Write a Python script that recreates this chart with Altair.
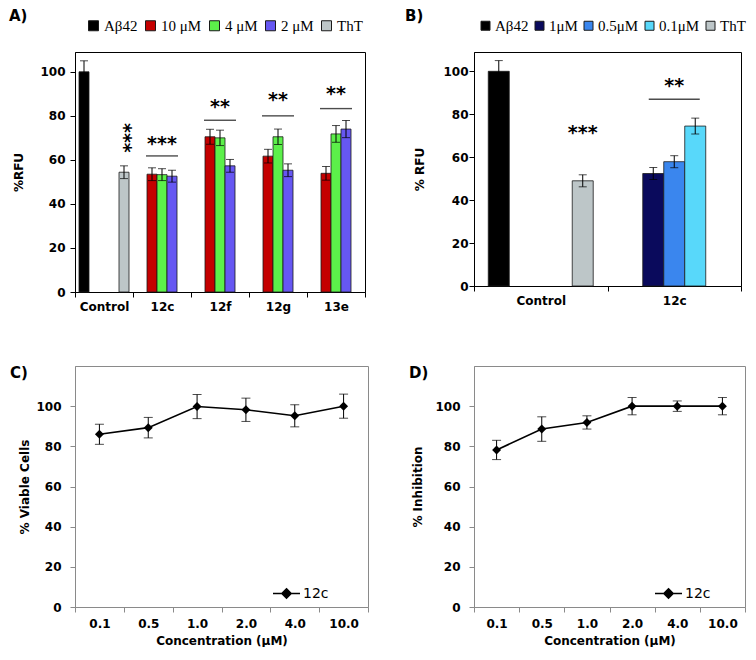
import altair as alt
import pandas as pd

SANS = "DejaVu Sans"
SERIF = "Liberation Serif"

# ---------------- Panel A data ----------------
a_groups = ["Control", "12c", "12f", "12g", "13e"]
a_series = ["Aβ42", "10 μM", "4 μM", "2 μM", "ThT"]
a_colors = ["#000000", "#C40000", "#5CF04A", "#6657F2", "#BDC6C8"]
a_bar_group = ["Control", "Control", "12c", "12c", "12c", "12f", "12f", "12f",
               "12g", "12g", "12g", "13e", "13e", "13e"]
a_bar_series = ["Aβ42", "ThT", "10 μM", "4 μM", "2 μM", "10 μM", "4 μM", "2 μM",
                "10 μM", "4 μM", "2 μM", "10 μM", "4 μM", "2 μM"]
a_bar_value = [100, 54.4, 53.5, 53.3, 52.6, 70.5, 70.0, 57.3, 61.7, 70.5, 55.3, 53.9, 71.8, 74.0]
a_bar_err = [5.0, 2.9, 2.9, 2.7, 2.7, 3.4, 3.5, 2.9, 3.1, 3.5, 2.9, 3.1, 3.8, 3.9]
a_sig_group = ["12c", "12f", "12g", "13e"]
a_sig_text = ["***", "**", "**", "**"]
a_sig_line = [61.8, 78.0, 80.0, 83.3]
a_sig_label = [67.4, 84.0, 87.0, 89.7]
a_ctrl_sig = ["***"]
a_ctrl_sig_y = [70.0]

# ---------------- Panel B data ----------------
b_groups = ["Control", "12c"]
b_series = ["Aβ42", "1μM", "0.5μM", "0.1μM", "ThT"]
b_colors = ["#000000", "#0A0A5C", "#3A86EE", "#58D8FA", "#BDC6C8"]
b_bar_group = ["Control", "Control", "12c", "12c", "12c"]
b_bar_series = ["Aβ42", "ThT", "1μM", "0.5μM", "0.1μM"]
b_bar_value = [100, 49.0, 52.4, 57.9, 74.5]
b_bar_err = [5.0, 2.8, 2.8, 2.8, 3.7]
b_sig_group = ["12c"]
b_sig_text = ["**"]
b_sig_line = [87.0]
b_sig_label = [93.0]
b_ctrl_sig = ["***"]
b_ctrl_sig_y = [71.2]

# ---------------- Panels C / D data ----------------
conc = ["0.1", "0.5", "1.0", "2.0", "4.0", "10.0"]
c_viable = [86.0, 89.3, 99.8, 98.2, 95.2, 100.0]
c_err = [5.0, 5.1, 6.0, 5.8, 5.5, 6.0]
d_inhib = [78.2, 88.6, 91.9, 100.0, 100.0, 100.0]
d_err = [4.8, 6.1, 3.3, 4.3, 2.6, 4.3]
cd_series = ["12c"]


def panel_title(text, dx, offset):
    return alt.TitleParams(text=text, anchor="start", frame="group", dx=dx,
                           offset=offset, font=SANS, fontSize=15, fontWeight="bold",
                           color="black")


def bar_panel(label, groups, series, colors, bgroup, bseries, bvalue, berr,
              sgroup, stext, sline, slabel, ctext, cy, cangle,
              width, height, ytitle, ypad_label, ypad_title, po,
              leg_x, leg_y, leg_sym, leg_off, leg_pad, line_size, title_dx, title_off):
    df = pd.DataFrame({"group": bgroup, "series": bseries, "value": bvalue, "err": berr})
    df["lo"] = df["value"] - df["err"]
    df["hi"] = df["value"] + df["err"]
    sig = pd.DataFrame({"group": sgroup, "txt": stext, "line": sline, "lab": slabel})
    ctrl = pd.DataFrame({"group": [groups[0]], "series": [series[-1]], "txt": ctext, "y": cy})

    x = alt.X("group:N", sort=groups,
              scale=alt.Scale(domain=groups, paddingInner=0, paddingOuter=0),
              axis=alt.Axis(title=None, tickBand="extent", labelAngle=0, domainColor="black",
                            tickColor="black", tickSize=5, labelFont=SANS, labelFontWeight="bold",
                            labelFontSize=12, labelColor="black", labelPadding=4))
    xo = alt.XOffset("series:N", sort=series,
                     scale=alt.Scale(domain=series, paddingInner=0, paddingOuter=po))
    yscale = alt.Scale(domain=[0, 109], nice=False)
    yaxis = alt.Axis(values=[0, 20, 40, 60, 80, 100], title=ytitle, grid=False,
                     domainColor="black", tickColor="black", tickSize=5,
                     labelFont=SANS, labelFontWeight="bold", labelFontSize=12,
                     labelColor="black", labelPadding=ypad_label,
                     titleFont=SANS, titleFontWeight="bold", titleFontSize=12,
                     titleColor="black", titlePadding=ypad_title)

    def Y(field):
        return alt.Y(field, scale=yscale, axis=yaxis)

    bars = alt.Chart(df).mark_bar(stroke="#1a1a1a", strokeWidth=0.8).encode(
        x=x, xOffset=xo, y=Y("value:Q"),
        color=alt.Color("series:N", sort=series,
                        scale=alt.Scale(domain=series, range=colors),
                        legend=alt.Legend(orient="none", legendX=leg_x, legendY=leg_y,
                                          direction="horizontal", columns=5, title=None,
                                          symbolType="square", symbolSize=leg_sym,
                                          symbolStrokeColor="#1a1a1a", symbolStrokeWidth=1,
                                          symbolOpacity=1, labelFont=SERIF, labelFontSize=15,
                                          labelColor="black", labelOffset=leg_off,
                                          columnPadding=leg_pad, padding=0)))
    rules = alt.Chart(df).mark_rule(color="black", strokeWidth=1).encode(
        x=x, xOffset=xo, y=Y("lo:Q"), y2="hi:Q")
    cap_hi = alt.Chart(df).mark_tick(color="black", thickness=1, size=8).encode(
        x=x, xOffset=xo, y=Y("hi:Q"))
    cap_lo = alt.Chart(df).mark_tick(color="black", thickness=1, size=8).encode(
        x=x, xOffset=xo, y=Y("lo:Q"))
    sig_lines = alt.Chart(sig).mark_tick(color="black", thickness=1.4, size=line_size).encode(
        x=x, y=Y("line:Q"))
    sig_text = alt.Chart(sig).mark_text(font=SANS, fontWeight="bold", fontSize=19,
                                        baseline="middle", color="black").encode(
        x=x, y=Y("lab:Q"), text="txt:N")
    ctrl_text = alt.Chart(ctrl).mark_text(font=SANS, fontWeight="bold", fontSize=19,
                                          baseline="middle", angle=cangle, color="black").encode(
        x=x, xOffset=xo, y=Y("y:Q"), text="txt:N")
    return alt.layer(bars, rules, cap_hi, cap_lo, sig_lines, sig_text, ctrl_text).properties(
        width=width, height=height,
        title=panel_title(label, title_dx, title_off),
        view=alt.ViewBackground(stroke="black", strokeWidth=1))


def line_panel(label, values, errs, width, height, ytitle, ypad_label, ypad_title,
               leg_x, leg_y, title_dx, title_off):
    df = pd.DataFrame({"conc": conc, "val": values, "err": errs, "series": cd_series * len(conc)})
    df["lo"] = df["val"] - df["err"]
    df["hi"] = df["val"] + df["err"]
    grey = "#8A8A8A"
    x = alt.X("conc:N", sort=conc,
              scale=alt.Scale(type="band", domain=conc, paddingInner=0, paddingOuter=0),
              axis=alt.Axis(title="Concentration (μM)", tickBand="extent", labelAngle=0,
                            domainColor=grey, tickColor=grey, tickSize=5,
                            labelFont=SANS, labelFontWeight="bold", labelFontSize=12,
                            labelColor="black", labelPadding=6,
                            titleFont=SANS, titleFontWeight="bold", titleFontSize=12,
                            titleColor="black", titlePadding=6))
    yscale = alt.Scale(domain=[0, 120], nice=False)
    yaxis = alt.Axis(values=[0, 20, 40, 60, 80, 100], title=ytitle, grid=False,
                     domainColor=grey, tickColor=grey, tickSize=5,
                     labelFont=SANS, labelFontWeight="bold", labelFontSize=12,
                     labelColor="black", labelPadding=ypad_label,
                     titleFont=SANS, titleFontWeight="bold", titleFontSize=12,
                     titleColor="black", titlePadding=ypad_title)

    def Y(field):
        return alt.Y(field, scale=yscale, axis=yaxis)

    line = alt.Chart(df).mark_line(color="black", strokeWidth=1.6).encode(x=x, y=Y("val:Q"))
    rules = alt.Chart(df).mark_rule(color="black", strokeWidth=1).encode(
        x=x, y=Y("lo:Q"), y2="hi:Q")
    cap_hi = alt.Chart(df).mark_tick(color="black", thickness=1, size=9).encode(x=x, y=Y("hi:Q"))
    cap_lo = alt.Chart(df).mark_tick(color="black", thickness=1, size=9).encode(x=x, y=Y("lo:Q"))
    pts = alt.Chart(df).mark_point(shape="diamond", filled=True, size=80, opacity=1).encode(
        x=x, y=Y("val:Q"),
        color=alt.Color("series:N", scale=alt.Scale(domain=cd_series, range=["black"]),
                        legend=alt.Legend(orient="none", legendX=leg_x, legendY=leg_y, title=None,
                                          symbolType="M-1,0H1M0,-0.34L0.34,0L0,0.34L-0.34,0Z",
                                          symbolSize=729, symbolFillColor="black",
                                          symbolStrokeColor="black", symbolStrokeWidth=1.6,
                                          symbolOpacity=1, labelFont=SANS, labelFontSize=14,
                                          labelColor="black", labelOffset=2, padding=0)))
    return alt.layer(line, rules, cap_hi, cap_lo, pts).properties(
        width=width, height=height,
        title=panel_title(label, title_dx, title_off),
        view=alt.ViewBackground(stroke=grey, strokeWidth=1))


A = bar_panel("A)", a_groups, a_series, a_colors, a_bar_group, a_bar_series, a_bar_value,
              a_bar_err, a_sig_group, a_sig_text, a_sig_line, a_sig_label,
              a_ctrl_sig, a_ctrl_sig_y, 90, 290, 240, "%RFU", 5, 14, 0.4,
              11, -34, 100, 3, 5, 32, -66, -6)
B = bar_panel("B)", b_groups, b_series, b_colors, b_bar_group, b_bar_series, b_bar_value,
              b_bar_err, b_sig_group, b_sig_text, b_sig_line, b_sig_label,
              b_ctrl_sig, b_ctrl_sig_y, 0, 267, 234, "% RFU", 1, 16, 0.68,
              4, -34, 81, 2, 3, 51, -69, -6)
C = line_panel("C)", c_viable, c_err, 293, 241, "% Viable Cells", 9, 4, 197, 213, -65, -15)
D = line_panel("D)", d_inhib, d_err, 271, 241, "% Inhibition", 9, 10, 180, 213, -65, -15)

chart = alt.concat(
    A, B, C, D, columns=2, bounds="flush",
    spacing=alt.RowColnumber(row=74, column=106)
).resolve_scale(
    x="independent", y="independent", color="independent", xOffset="independent"
).resolve_legend(color="independent").properties(
    padding=0, background="white"
).configure(font=SANS)

chart.save("out.html", embed_options={"renderer": "svg", "actions": False})
